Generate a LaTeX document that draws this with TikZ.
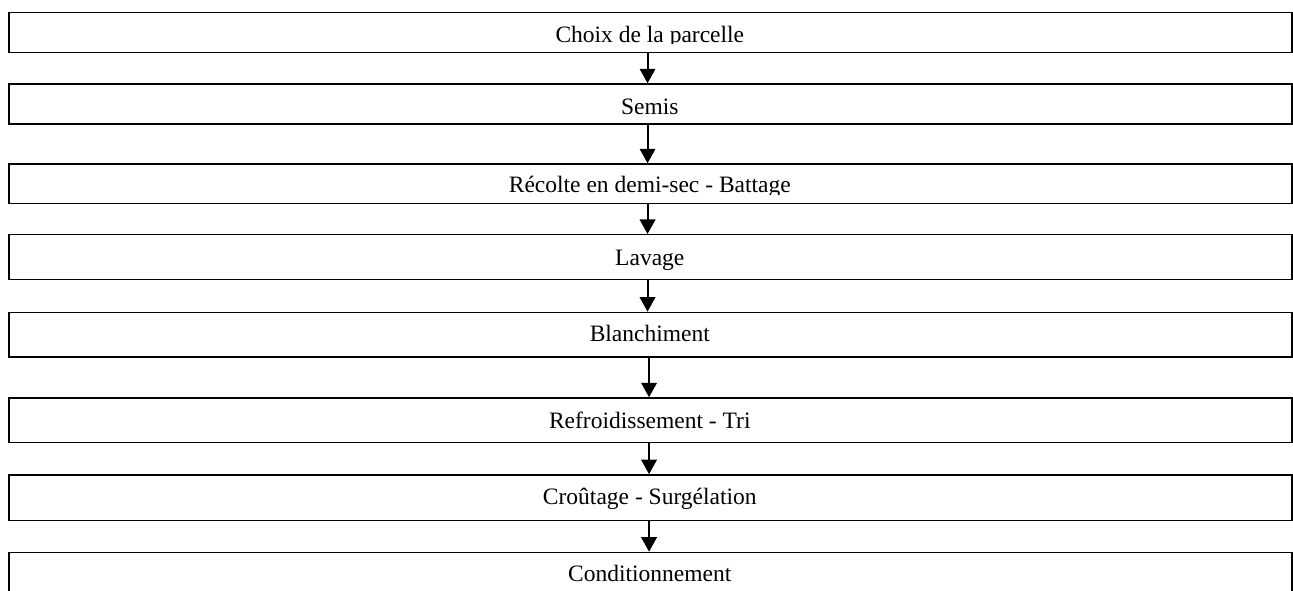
\documentclass[tikz,border=0pt]{standalone}
\usepackage{fontspec}
\setmainfont{Liberation Serif}
\usetikzlibrary{arrows.meta}
\newcommand\mkstep[5]{%
  \node[box, anchor=north west, minimum width=1283pt, minimum height={#3pt-#2pt}] (#1) at (8.3,{591-#2}) {};
  \begin{scope}
    \clip (8.3,{591-#2}) rectangle (1291.3,{591-#3+8});
    \node[lbl] (#1t) at (649.8,{591-#4}) {#5};
  \end{scope}}
\begin{document}
\begin{tikzpicture}[x=1pt,y=1pt,
  box/.style={draw=black,line width=1.5pt,inner sep=0pt,fill=none},
  lbl/.style={anchor=base,inner sep=0pt,font=\fontsize{23.5}{28}\selectfont},
  arr/.style={line width=2pt,-{Triangle[width=15.5pt,length=14.5pt]}}]
\useasboundingbox (0,0) rectangle (1293,591);
\clip (0,0) rectangle (1293,591);
\mkstep{b1}{11.7}{51.7}{43}{Choix de la parcelle}
\mkstep{b2}{83.3}{123.3}{115}{Semis}
\mkstep{b3}{163.3}{202.7}{193}{Récolte en demi-sec - Battage}
\mkstep{b4}{234}{278.7}{265.3}{Lavage}
\mkstep{b5}{311.7}{356.3}{341.7}{Blanchiment}
\mkstep{b6}{397.3}{442}{428.3}{Refroidissement - Tri}
\mkstep{b7}{474.2}{520}{505}{Croûtage - Surgélation}
\mkstep{b8}{551.7}{625}{581.7}{Conditionnement}
\foreach \a/\b/\d in {b1/b2/-3,b2/b3/-3,b3/b4/-3,b4/b5/-3,b5/b6/-1.5,b6/b7/-1.5,b7/b8/-1.5}
  \draw[arr] ([xshift=\d pt]\a.south) -- ([xshift=\d pt]\a.south |- \b.north);
\end{tikzpicture}
\end{document}
